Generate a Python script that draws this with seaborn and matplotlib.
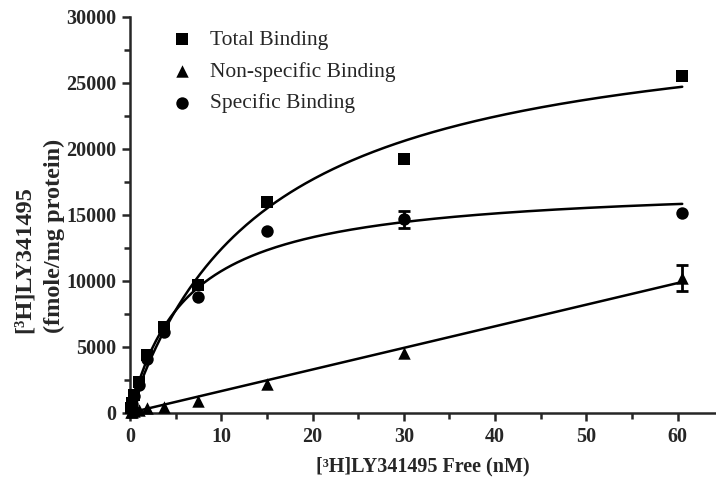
import matplotlib
matplotlib.use("Agg")
import matplotlib.pyplot as plt
from matplotlib.ticker import MultipleLocator
import numpy as np
import pandas as pd
import seaborn as sns

# free [3H]LY341495 (nM) and binding (fmole/mg protein)
conc = [0.12, 0.23, 0.47, 0.93, 1.85, 3.7, 7.5, 15, 30, 60.5]
total = [350, 700, 1350, 2300, 4350, 6500, 9700, 15950, 19250, 25500]
total_err = [0, 0, 0, 0, 0, 0, 0, 0, 0, 0]
nonspecific = [30, 60, 110, 200, 330, 420, 910, 2180, 4550, 10200]
nonspecific_err = [0, 0, 0, 0, 0, 0, 0, 0, 0, 1000]
specific = [280, 640, 1250, 2100, 4050, 6150, 8750, 13750, 14650, 15100]
specific_err = [0, 0, 0, 0, 0, 0, 0, 0, 650, 0]

labels = ["Total Binding", "Non-specific Binding", "Specific Binding"]
xticks = [0, 10, 20, 30, 40, 50, 60]
yticks = [0, 5000, 10000, 15000, 20000, 25000, 30000]


def fit_binding(x, y):
    # one-site hyperbola, grid over Kd, linear LSQ for Bmax
    x = np.asarray(x, float)
    y = np.asarray(y, float)
    best = None
    for kd in np.linspace(0.2, 40, 4000):
        h = x / (kd + x)
        bmax = np.dot(h, y) / np.dot(h, h)
        sse = np.sum((bmax * h - y) ** 2)
        if best is None or sse < best[0]:
            best = (sse, kd, bmax)
    return best[1], best[2]


xs = np.linspace(0, max(conc), 300)
kd_s, bmax_s = fit_binding(conc, specific)
kd_t, bmax_t = fit_binding(conc, total)
m_ns = np.dot(conc, nonspecific) / np.dot(conc, conc)

fits = pd.DataFrame({
    "x": xs,
    "total": bmax_t * xs / (kd_t + xs),
    "nonspecific": m_ns * xs,
    "specific": bmax_s * xs / (kd_s + xs),
})

sns.set_style("ticks")
plt.rcParams["font.family"] = ["Liberation Serif", "DejaVu Serif"]

fig = plt.figure(figsize=(7.16, 4.78), dpi=100)
ax = fig.add_axes([0.1816, 0.1366, 0.8184, 0.8285])

for col in ["total", "nonspecific", "specific"]:
    sns.lineplot(data=fits, x="x", y=col, ax=ax, color="black", linewidth=1.8, zorder=2)

# only bars longer than the marker show, as in the original
for yv, err in [(total, total_err), (nonspecific, nonspecific_err), (specific, specific_err)]:
    idx = [i for i, e in enumerate(err) if e > 0]
    if idx:
        ax.errorbar([conc[i] for i in idx], [yv[i] for i in idx], yerr=[err[i] for i in idx],
                    fmt="none", ecolor="black", elinewidth=2, capsize=4, capthick=2,
                    zorder=3, clip_on=False)

pts = pd.DataFrame({"x": conc, "total": total, "nonspecific": nonspecific, "specific": specific})
for col, mk, lab, sz in [("total", "s", labels[0], 75), ("nonspecific", "^", labels[1], 80),
                         ("specific", "o", labels[2], 80)]:
    sns.scatterplot(data=pts, x="x", y=col, ax=ax, marker=mk, s=sz, color="black",
                    edgecolor="black", linewidth=0, label=lab, zorder=4, clip_on=False)

ax.set_xlim(0, 64.2)
ax.set_ylim(0, 30000)
ax.set_xticks(xticks)
ax.set_yticks(yticks)
ax.xaxis.set_minor_locator(MultipleLocator(5))
ax.yaxis.set_minor_locator(MultipleLocator(2500))
for lab in ax.get_xticklabels() + ax.get_yticklabels():
    lab.set_fontweight("bold")
    lab.set_fontsize(14.5)
ax.tick_params(which="major", length=6, width=1.8, pad=4)
ax.tick_params(which="minor", length=4, width=1.8)
sns.despine(ax=ax)
for s in ["left", "bottom"]:
    ax.spines[s].set_linewidth(1.8)

ax.set_xlabel("[³H]LY341495 Free (nM)", fontsize=14.5, fontweight="bold", labelpad=7)
ax.set_ylabel("")
# two-line y title, lines aligned at their start like the original
fig.text(0.0545, 0.3033, "[³H]LY341495\n(fmole/mg protein)", rotation=90,
         ha="center", va="bottom", multialignment="left", fontsize=17.5,
         fontweight="bold", linespacing=1.55)

ax.legend(loc="upper left", bbox_to_anchor=(0.03, 1.0), frameon=False, fontsize=15.5,
          labelspacing=0.55, handletextpad=0.3, borderaxespad=0.2)

plt.savefig("out.png", dpi=100)
plt.close()
